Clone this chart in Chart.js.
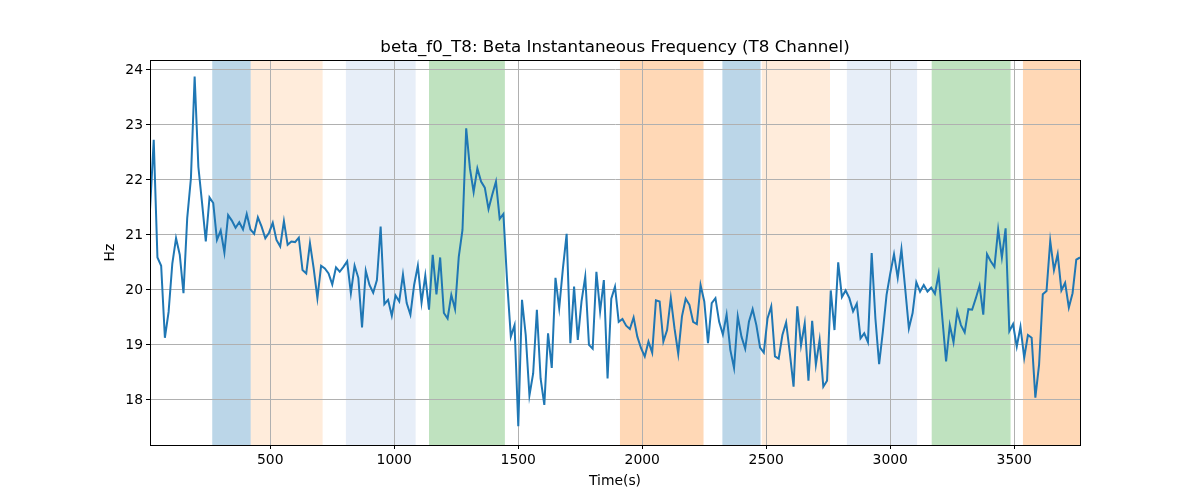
<!DOCTYPE html>
<html>
<head>
<meta charset="utf-8">
<script src="https://cdn.jsdelivr.net/npm/chart.js@4.4.0/dist/chart.umd.min.js"></script>
<style>
  html, body { margin: 0; padding: 0; background: #fff; }
  canvas { display: block; }
</style>
</head>
<body>
<canvas id="freq" width="1200" height="500"></canvas>
<script>
var freqValues = [
  21.45, 22.73, 20.59, 20.44, 19.13, 19.6, 20.48, 20.94, 20.64, 19.94,
  21.3, 22.03, 23.88, 22.24, 21.58, 20.88, 21.68, 21.58, 20.91, 21.08,
  20.68, 21.36, 21.26, 21.13, 21.23, 21.1, 21.38, 21.1, 21.02, 21.32,
  21.15, 20.94, 21.04, 21.22, 20.91, 20.79, 21.25, 20.82, 20.88, 20.87,
  20.95, 20.36, 20.3,
  20.85, 20.39, 19.85, 20.44, 20.39, 20.3, 20.1, 20.41, 20.33, 20.42,
  20.52, 19.94, 20.44, 20.22, 19.32, 20.35, 20.09, 19.95, 20.18, 21.15,
  19.74, 19.82, 19.53, 19.9, 19.79, 20.28, 19.76, 19.55, 20.09, 20.44,
  19.77, 20.26, 19.64, 20.64, 19.92, 20.59, 19.58, 19.48, 19.91, 19.65,
  20.6,
  21.09, 22.94, 22.21, 21.78, 22.21, 21.97, 21.86, 21.47, 21.73, 21.97,
  21.29, 21.38, 20.15, 19.15, 19.36, 17.52, 19.82, 19.18, 18.08, 18.48,
  19.64, 18.39, 17.91, 19.21, 18.58, 20.22, 19.67, 20.39, 21.02, 19.03,
  20.06, 19.09, 19.79, 20.24, 19.0, 18.93, 20.33, 19.61, 20.18, 18.39,
  19.84, 20.06,
  19.42, 19.47, 19.35, 19.29, 19.5, 19.15, 18.94, 18.79, 19.06, 18.86,
  19.81, 19.79, 19.06, 19.27, 19.85, 19.3, 18.84, 19.52, 19.84, 19.73,
  19.42, 19.38, 20.09, 19.79, 19.03, 19.76, 19.85, 19.42, 19.19, 19.55,
  18.91, 18.58, 19.52, 19.15, 18.93, 19.42, 19.65, 19.36, 18.95, 18.86,
  19.48,
  19.7, 18.79, 18.75, 19.18, 19.41, 18.85, 18.24, 19.7, 18.99, 19.39,
  18.35, 19.44, 18.64, 19.09, 18.24, 18.35, 19.99, 19.27, 20.5, 19.87,
  19.99, 19.85, 19.61, 19.75, 19.12, 19.21, 19.05, 20.67, 19.48, 18.65,
  19.24, 19.91, 20.3, 20.65, 20.22, 20.74, 20.03, 19.3, 19.58, 20.14,
  19.97, 20.09,
  19.97, 20.04, 19.93, 20.29, 19.48, 18.7, 19.36, 19.05, 19.61, 19.36,
  19.23, 19.65, 19.64, 19.85, 20.08, 19.55, 20.65, 20.52, 20.42, 21.1,
  20.59, 21.12, 19.25, 19.38, 18.97, 19.33, 18.77, 19.18, 19.13, 18.04,
  18.64, 19.92, 19.98, 20.89, 20.36, 20.65, 19.99, 20.13, 19.68, 19.94,
  20.55, 20.59
];

// one sample every 15 s
var timeStart = 15;
var timeStep = 15;
var times = freqValues.map(function (v, i) { return timeStart + i * timeStep; });

// shaded intervals (seconds)
var spanStarts = [266, 421, 805, 1140, 1910, 2323, 2482, 2825, 3167, 3535];
var spanEnds = [421, 711, 1086, 1446, 2247, 2477, 2757, 3108, 3485, 3800];
var spanColors = [
  "rgba(31,119,180,0.3)",
  "rgba(255,127,14,0.15)",
  "rgba(174,199,232,0.3)",
  "rgba(44,160,44,0.3)",
  "rgba(255,127,14,0.3)",
  "rgba(31,119,180,0.3)",
  "rgba(255,127,14,0.15)",
  "rgba(174,199,232,0.3)",
  "rgba(44,160,44,0.3)",
  "rgba(255,127,14,0.3)"
];

var xTicks = [500, 1000, 1500, 2000, 2500, 3000, 3500];
var yTicks = [18, 19, 20, 21, 22, 23, 24];

var points = times.map(function (t, i) { return { x: t, y: freqValues[i] }; });

// draw the shaded spans under the grid
const spansPlugin = {
  id: "spans",
  beforeDraw: function (chart) {
    const ctx = chart.ctx;
    const area = chart.chartArea;
    const xs = chart.scales.x;
    ctx.save();
    ctx.beginPath();
    ctx.rect(area.left, area.top, area.right - area.left, area.bottom - area.top);
    ctx.clip();
    for (let i = 0; i < spanStarts.length; i++) {
      const x0 = xs.getPixelForValue(spanStarts[i]);
      const x1 = xs.getPixelForValue(spanEnds[i]);
      ctx.fillStyle = spanColors[i];
      ctx.fillRect(x0, area.top, x1 - x0, area.bottom - area.top);
    }
    ctx.restore();
  }
};

// black frame around the plot
const framePlugin = {
  id: "frame",
  afterDraw: function (chart) {
    const ctx = chart.ctx;
    const a = chart.chartArea;
    ctx.save();
    ctx.strokeStyle = "#000";
    ctx.lineWidth = 1;
    ctx.strokeRect(Math.round(a.left) + 0.5, Math.round(a.top) + 0.5,
      Math.round(a.right - a.left), Math.round(a.bottom - a.top));
    ctx.restore();
  }
};

Chart.defaults.font.family = "'DejaVu Sans', sans-serif";
Chart.defaults.color = "#000";

new Chart("freq", {
  type: "line",
  data: {
    datasets: [{
      data: points,
      borderColor: "#1f77b4",
      borderWidth: 2,
      pointRadius: 0,
      tension: 0,
      fill: false
    }]
  },
  options: {
    responsive: false,
    animation: false,
    layout: { padding: { left: 0, right: 120, top: 0, bottom: 0 } },
    plugins: {
      legend: { display: false },
      tooltip: { enabled: false },
      title: {
        display: true,
        fullSize: false,
        text: "beta_f0_T8: Beta Instantaneous Frequency (T8 Channel)",
        font: { size: 16.7, weight: "normal" },
        color: "#000",
        padding: { top: 38, bottom: 2 }
      }
    },
    scales: {
      x: {
        type: "linear",
        min: 15,
        max: 3765,
        afterBuildTicks: function (scale) {
          scale.ticks = xTicks.map(function (v) { return { value: v }; });
        },
        afterFit: function (scale) { scale.height = 55; },
        ticks: {
          font: { size: 13.9 },
          color: "#000",
          maxRotation: 0,
          padding: 3,
          callback: function (v) { return String(v); }
        },
        grid: { color: "#b0b0b0", lineWidth: 1, tickColor: "#000", tickLength: 4 },
        border: { display: true, color: "#000", width: 1 },
        title: {
          display: true,
          text: "Time(s)",
          font: { size: 13.9 },
          color: "#000",
          padding: { top: 0, bottom: 10.6 }
        }
      },
      y: {
        min: 17.18,
        max: 24.18,
        afterBuildTicks: function (scale) {
          scale.ticks = yTicks.map(function (v) { return { value: v }; });
        },
        afterFit: function (scale) { scale.width = 150; },
        ticks: {
          font: { size: 13.9 },
          color: "#000",
          padding: 3,
          callback: function (v) { return String(v); }
        },
        grid: { color: "#b0b0b0", lineWidth: 1, tickColor: "#000", tickLength: 4 },
        border: { display: true, color: "#000", width: 1 },
        title: {
          display: true,
          text: "Hz",
          font: { size: 13.9 },
          color: "#000",
          padding: { top: 101.6, bottom: 0 }
        }
      }
    }
  },
  plugins: [spansPlugin, framePlugin]
});
</script>
</body>
</html>
